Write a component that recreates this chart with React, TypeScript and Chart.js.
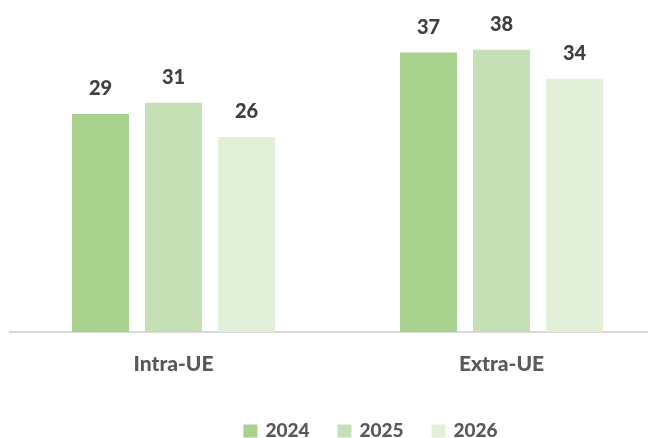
import React, { useEffect, useRef } from "react";
import { Chart, registerables } from "chart.js";

Chart.register(...registerables);

const categories = ["Intra-UE", "Extra-UE"];
const seriesLabels = ["2024", "2025", "2026"];
const values2024 = [29.2, 37.4];
const values2025 = [30.7, 37.8];
const values2026 = [26.1, 33.9];
const colors = ["#a9d18e", "#c5e0b4", "#e2f0d9"];

const FONT = "Lato";
const WEIGHT = "900";

const dataLabelPlugin = {
  id: "dataLabels",
  afterDatasetsDraw(chart: any) {
    const ctx = chart.ctx;
    ctx.save();
    ctx.font = `${WEIGHT} 20px ${FONT}`;
    ctx.fillStyle = "#404040";
    ctx.textAlign = "center";
    ctx.textBaseline = "middle";
    chart.data.datasets.forEach((ds: any, di: number) => {
      const meta = chart.getDatasetMeta(di);
      meta.data.forEach((bar: any, i: number) => {
        ctx.fillText(String(Math.round(ds.data[i])), bar.x, bar.y - 25);
      });
    });
    ctx.restore();
  },
};

const legendPlugin = {
  id: "customLegend",
  afterDraw(chart: any) {
    const ctx = chart.ctx;
    ctx.save();
    ctx.font = `${WEIGHT} 19px ${FONT}`;
    ctx.textBaseline = "middle";
    const box = 14;
    const gap = 8;
    const itemGap = 28;
    const items = chart.data.datasets.map((ds: any) => ({
      label: ds.label,
      color: ds.backgroundColor,
      w: box + gap + ctx.measureText(ds.label).width,
    }));
    const total = items.reduce((s: number, it: any) => s + it.w, 0) + itemGap * (items.length - 1);
    const center = (chart.chartArea.left + chart.chartArea.right) / 2 + 33;
    let x = center - total / 2;
    const y = 423;
    items.forEach((it: any) => {
      ctx.fillStyle = it.color;
      ctx.fillRect(x, y - 6.5, box, 13);
      ctx.fillStyle = "#595959";
      ctx.fillText(it.label, x + box + gap, y);
      x += it.w + itemGap;
    });
    ctx.restore();
  },
};

export default function App() {
  const ref = useRef<HTMLCanvasElement | null>(null);
  useEffect(() => {
    if (!ref.current) return;
    const chart = new Chart(ref.current, {
      type: "bar",
      data: {
        labels: categories,
        datasets: [
          { label: seriesLabels[0], data: values2024, backgroundColor: colors[0] },
          { label: seriesLabels[1], data: values2025, backgroundColor: colors[1] },
          { label: seriesLabels[2], data: values2026, backgroundColor: colors[2] },
        ],
      },
      options: {
        animation: false,
        responsive: false,
        maintainAspectRatio: false,
        layout: { padding: { left: 1.5, right: 22.5, top: 25.2, bottom: 46 } },
        datasets: { bar: { categoryPercentage: 0.6677, barPercentage: 0.781 } },
        plugins: { legend: { display: false }, tooltip: { enabled: false }, title: { display: false } },
        scales: {
          x: {
            grid: { display: false, drawTicks: false },
            border: { display: true, color: "#d9d9d9", width: 2 },
            ticks: { color: "#595959", font: { family: FONT, weight: WEIGHT, size: 21 }, padding: 20 },
            afterFit: (s: any) => {
              s.height = 60;
            },
          },
          y: { display: false, min: 0, max: 40 },
        },
      },
      plugins: [dataLabelPlugin, legendPlugin],
    });
    return () => chart.destroy();
  }, []);
  return (
    <div style={{ width: 648, height: 430, overflow: "hidden" }}>
      <canvas ref={ref} width={680} height={430} style={{ width: 680, height: 430, display: "block" }} />
    </div>
  );
}
